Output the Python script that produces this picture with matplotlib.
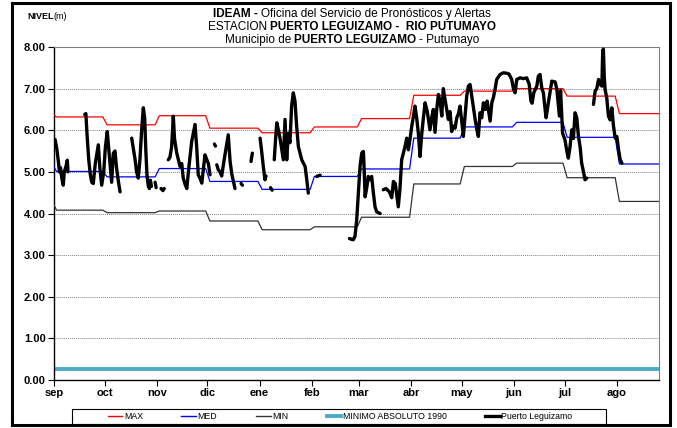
import numpy as np
import matplotlib
matplotlib.use('Agg')
import matplotlib.pyplot as plt
from matplotlib.patches import Rectangle
from matplotlib.lines import Line2D

plt.rcParams['font.family'] = ['Liberation Sans Narrow', 'Liberation Sans', 'DejaVu Sans']

# month axis (days from 1 sep)
month_labels = ['sep', 'oct', 'nov', 'dic', 'ene', 'feb', 'mar', 'abr', 'may', 'jun', 'jul', 'ago']
month_start = [0, 30, 61, 91, 122, 153, 181, 212, 242, 273, 303, 334]
day_end = 359

# monthly reference levels (m)
max_lvl = [6.32, 6.13, 6.35, 6.05, 5.94, 6.08, 6.28, 6.84, 6.94, 7.00, 6.82, 6.40]
med_lvl = [5.01, 4.88, 5.08, 4.77, 4.58, 4.89, 5.07, 5.81, 6.08, 6.19, 5.83, 5.19]
min_lvl = [4.08, 4.02, 4.06, 3.82, 3.61, 3.68, 3.91, 4.71, 5.13, 5.21, 4.86, 4.29]
min_abs_1990 = 0.27

# Puerto Leguizamo observed level, nan = no data
nan = np.nan
obs_day = [0.6, 1.6, 2.6, 3.2, 3.9, 4.6, 5.5, 6.1, 7.1, 7.9, 8.3, nan,
           18.2, 18.9, 19.6, 20.6, 21.5, 22.4, 23.3, 24.5, 26.3, 27.2, 28.3, 29.5, 30.5, 31.6,
           32.4, 33.2, 34.2, 35.2, 36.2, 37.1, 38.1, 39.2, nan,
           46.1, 47.1, 48.1, 49.0, 50.0, 51.0, 52.0, 53.0, 53.8, 54.5, 55.2, 56.0, 56.6, nan,
           57.2, 57.8, nan, 60.0, 60.6, nan, 63.5, 64.6, 65.4, nan,
           67.8, 68.8, 69.8, 70.8, 71.5, 72.8, 73.8, 74.8, 75.8, 76.7, 77.8, 78.8, 80.0, 81.7,
           83.0, 83.7, 84.7, 85.6, 86.6, 87.7, 89.6, 90.6, 91.6, 92.6, nan,
           95.2, 95.8, nan,
           96.6, 97.5, 98.5, 99.5, 101.0, 103.4, 104.5, 105.5, 107.4, nan,
           111.0, 111.8, nan, 116.9, 117.7, nan,
           122.3, 123.2, 124.2, 125.2, 125.8, nan, 128.5, 129.4, nan,
           130.7, 131.5, 132.2, 133.2, 134.1, 135.2, 136.1, 137.1, 138.1, 139.0, 140.0, 141.0,
           142.0, 143.0, 144.0, 145.0, 147.0, 149.0, 150.0, 150.9, nan,
           155.9, 157.9, nan,
           175.3, 176.5, 177.6, 178.6, 179.6, 180.6, 181.6, 182.6, 183.6, 184.1, 184.6, 185.5,
           186.5, 187.5, 188.5, 189.5, 190.5, 191.5, 192.5, 193.5, nan,
           195.4, 197.0, 199.0, 200.4, 201.4, 202.5, 204.3, 205.3, 206.3, 207.3, 208.3, 209.3,
           210.3, 211.3, 212.3, 213.3, 214.2, 215.2, 216.2, 217.2, 218.2, 219.2, 220.2, 221.5,
           223.1, 224.1, 225.1, 226.1, 227.1, 228.1, 229.1, 230.1, 231.0, 232.0, 233.0, 234.0,
           235.0, 236.0, 237.0, 238.0, 239.0, 240.0, 240.9, 242.0, 242.9, 244.0, 244.9, 245.9,
           246.9, 247.9, 249.0, 249.9, 251.0, 251.8, 252.8, 253.8, 254.8, 256.0, 257.0, 258.8,
           259.8, 260.7, 261.7, 262.7, 264.7, 266.6, 268.6, 270.0, 271.6, 272.6, 273.6, 274.6,
           276.6, 278.5, 280.5, 282.0, 283.0, 283.7, 284.7, 286.5, 287.4, 288.4, 289.5, 290.4,
           291.2, 292.0, 293.5, 295.4, 297.4, 298.4, 299.9, 300.6, 301.8, 303.2, 304.3, 305.2,
           306.2, 307.2, 308.2, 309.2, 310.2, 311.2, 312.2, 313.1, 314.2, 315.1, 316.1, nan,
           320.1, 321.1, 322.1, 323.1, 324.1, 325.1, 325.6, 326.0, 326.5, 327.0, 328.0, 329.0,
           330.0, 331.0, 332.0, 333.0, 334.0, 335.0, 336.0, 337.0]
obs_lvl = [5.78, 5.57, 5.25, 5.00, 5.10, 4.85, 4.68, 5.00, 5.13, 5.28, 5.00, nan,
           6.38, 6.40, 5.90, 5.30, 4.95, 4.75, 4.72, 5.20, 5.65, 5.10, 4.68, 5.00, 5.60, 5.97,
           5.60, 5.20, 4.75, 5.45, 5.50, 5.10, 4.80, 4.52, nan,
           5.81, 5.55, 5.30, 5.00, 4.85, 5.30, 6.00, 6.54, 6.30, 5.50, 4.90, 4.65, 4.60, nan,
           4.80, 4.65, nan, 4.75, 4.62, nan, 4.60, 4.55, 4.60, nan,
           5.29, 5.35, 5.60, 6.34, 5.80, 5.46, 5.30, 5.13, 5.20, 4.85, 4.70, 4.60, 5.10, 5.73,
           6.00, 6.14, 5.57, 4.93, 4.85, 4.73, 5.41, 5.30, 5.20, 4.93, nan,
           5.67, 5.62, nan,
           5.17, 5.05, 5.00, 4.90, 5.30, 5.89, 5.25, 4.95, 4.60, nan,
           4.72, 4.68, nan, 5.25, 5.45, nan,
           5.81, 5.50, 5.13, 4.81, 4.90, nan, 4.62, 4.56, nan,
           5.29, 5.80, 6.18, 6.00, 5.81, 5.53, 5.29, 6.26, 5.29, 5.93, 5.70, 6.58,
           6.90, 6.70, 6.09, 5.61, 5.29, 5.13, 4.81, 4.49, nan,
           4.89, 4.92, nan,
           3.40, 3.38, 3.37, 3.45, 3.84, 4.49, 5.13, 5.45, 5.49, 5.00, 4.40, 4.60,
           4.89, 4.81, 4.89, 4.50, 4.16, 4.04, 4.02, 4.00, nan,
           4.57, 4.60, 4.52, 4.38, 4.77, 4.72, 4.16, 4.60, 5.29, 5.45, 5.61, 5.81,
           5.53, 5.80, 6.10, 6.34, 6.58, 6.30, 5.93, 5.37, 5.90, 6.30, 6.66, 6.45,
           6.01, 6.30, 6.50, 5.95, 6.50, 6.86, 6.70, 6.34, 7.00, 6.75, 6.50, 6.26,
           6.45, 5.97, 6.10, 6.05, 6.30, 6.40, 6.58, 6.20, 5.85, 6.40, 6.82, 7.06,
           7.10, 6.82, 6.50, 6.26, 6.00, 5.85, 6.42, 6.30, 6.66, 6.50, 6.70, 6.22,
           6.66, 6.78, 6.98, 7.22, 7.34, 7.38, 7.37, 7.35, 7.22, 7.00, 6.90, 7.22,
           7.26, 7.24, 7.26, 7.10, 6.70, 6.65, 6.90, 7.06, 7.30, 7.34, 7.00, 6.90,
           6.58, 6.30, 6.70, 7.18, 7.16, 6.98, 6.34, 6.95, 5.93, 5.77, 5.50, 5.33,
           5.60, 6.01, 5.80, 6.42, 6.30, 5.85, 5.60, 5.21, 5.00, 4.81, 4.85, nan,
           6.62, 6.94, 7.00, 7.22, 7.10, 7.06, 7.91, 7.95, 7.30, 6.98, 6.78, 6.34,
           6.25, 6.54, 6.10, 5.81, 5.85, 5.53, 5.29, 5.21]


def monthly_steps(levels):
    # monthly value held through the month, short ramp at each change
    xs, ys = [], []
    prev = levels[-1]
    for start, v in zip(month_start, levels):
        xs += [start - 1, start + 1.5]
        ys += [prev, v]
        prev = v
    xs.append(day_end + 5)
    ys.append(prev)
    return xs, ys


W, H = 677, 428
fig = plt.figure(figsize=(W / 100, H / 100), dpi=100)
ax = fig.add_axes([54 / W, 1 - 380 / H, 605 / W, 333 / H])

ax.axhline(min_abs_1990, color='#4bacc6', lw=2.8, zorder=2)
for lv, c in [(max_lvl, '#ff0000'), (med_lvl, '#0000ff'), (min_lvl, '#333333')]:
    xs, ys = monthly_steps(lv)
    ax.plot(xs, ys, color=c, lw=0.9, zorder=3)
ax.plot(obs_day, obs_lvl, color='black', lw=2.4, solid_capstyle='round',
        solid_joinstyle='round', zorder=4)

ax.set_xlim(0, day_end)
ax.set_ylim(0, 8)
ax.set_yticks(np.arange(0, 9, 1))
ax.set_yticklabels(['%.2f' % v for v in range(9)], fontweight='bold', fontsize=8)
ax.set_xticks(month_start)
ax.set_xticklabels(month_labels, fontweight='bold', fontsize=8)
ax.tick_params(direction='out', length=4, width=0.8, pad=2)
ax.grid(axis='y', linestyle=(0, (1, 1)), color='#808080', lw=0.7)
for s in ['top', 'right']:
    ax.spines[s].set_color('#808080')
for s in ['left', 'bottom']:
    ax.spines[s].set_color('black')
    ax.spines[s].set_linewidth(1.0)

# title lines with mixed weights
renderer = fig.canvas.get_renderer()


def rich_line(y_px, parts, size, cx_px):
    texts, widths = [], []
    for s, w, gap in parts:
        t = fig.text(0, 1 - y_px / H, s, fontsize=size, fontweight=w, va='baseline', ha='left')
        texts.append(t)
        widths.append(t.get_window_extent(renderer).width + gap)
    x = cx_px - sum(widths) / 2
    for t, wd in zip(texts, widths):
        t.set_x(x / W)
        x += wd


cx = 352
rich_line(17, [('IDEAM -', 'bold', 3), ('Oficina del Servicio de Pronósticos y Alertas', 'normal', 0)], 8.5, cx)
rich_line(30, [('ESTACION', 'normal', 2), ('PUERTO LEGUIZAMO -  RIO PUTUMAYO', 'bold', 0)], 8.5, cx)
rich_line(43, [('Municipio de', 'normal', 3), ('PUERTO LEGUIZAMO', 'bold', 3), ('- Putumayo', 'normal', 0)], 8.5, cx)
fig.text(27 / W, 1 - 19 / H, 'NIVEL', fontsize=6.5, fontweight='bold', va='baseline')
fig.text(54 / W, 1 - 19 / H, '(m)', fontsize=6.5, va='baseline')

# legend
handles = [Line2D([], [], color='#ff0000', lw=1),
           Line2D([], [], color='#0000ff', lw=1),
           Line2D([], [], color='#333333', lw=1),
           Line2D([], [], color='#4bacc6', lw=2.8),
           Line2D([], [], color='black', lw=2.4)]
labels = ['MAX', 'MED', 'MIN', 'MINIMO ABSOLUTO 1990', 'Puerto Leguizamo']
fig.legend(handles, labels, loc='center', bbox_to_anchor=(340 / W, 1 - 416.5 / H), ncol=5,
           frameon=False, fontsize=6.3, handlelength=1.7, handletextpad=0.15, columnspacing=4.4)
fig.patches.append(Rectangle((71.5 / W, 1 - 424 / H), 534 / W, 15 / H, transform=fig.transFigure,
                             fill=False, ec='black', lw=0.8))
fig.patches.append(Rectangle((12 / W, 1 - 425 / H), 658 / W, 422 / H, transform=fig.transFigure,
                             fill=False, ec='black', lw=2.2))

fig.savefig('out.png', dpi=100)
